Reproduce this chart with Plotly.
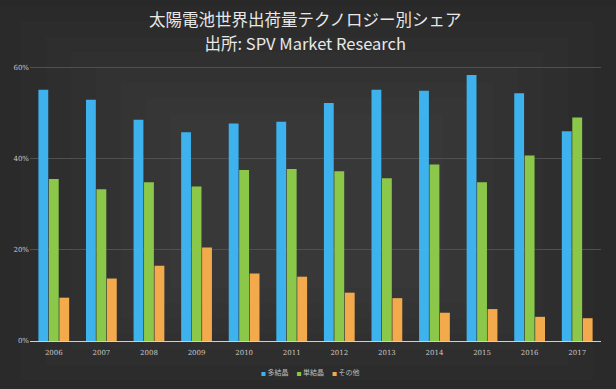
import plotly.graph_objects as go

years = ["2006", "2007", "2008", "2009", "2010", "2011", "2012", "2013", "2014", "2015", "2016", "2017"]
poly = [55.1, 52.9, 48.5, 45.8, 47.7, 48.1, 52.2, 55.1, 54.9, 58.3, 54.3, 46.0]
mono = [35.5, 33.3, 34.8, 33.9, 37.5, 37.7, 37.2, 35.7, 38.7, 34.8, 40.7, 49.0]
other = [9.5, 13.7, 16.5, 20.5, 14.8, 14.1, 10.6, 9.4, 6.2, 7.0, 5.3, 5.0]
series_names = ["多結晶", "単結晶", "その他"]
y_ticks = [0, 20, 40, 60]
y_labels = ["0%", "20%", "40%", "60%"]
title1 = "太陽電池世界出荷量テクノロジー別シェア"
title2 = "出所: SPV Market Research"

colors = ["#3db2ec", "#8bc84a", "#f3aa4c"]

fig = go.Figure()
for name, vals, c in zip(series_names, [poly, mono, other], colors):
    fig.add_trace(go.Bar(x=years, y=vals, name=name, showlegend=False,
                         marker=dict(color=c, line=dict(width=0))))

# background vignette (lighter centre, darker edges)
shapes = []
steps = 8
for i in range(steps):
    f = i / steps
    shapes.append(dict(type="rect", xref="paper", yref="paper", layer="below",
                       x0=-0.06 + f * 0.35, x1=1.03 - f * 0.35,
                       y0=-0.2 + f * 0.45, y1=1.22 - f * 0.45,
                       fillcolor="rgba(255,255,255,0.012)", line=dict(width=0)))

legend_text = "&nbsp;&nbsp;&nbsp;&nbsp;&nbsp;".join(
    f"<span style='color:{c}; font-size:5px'>■</span> {n}" for n, c in zip(series_names, colors)
)

title_text = (f"<span style='font-size:16.5px'>{title1}</span><br>"
              f"<span style='font-size:16.5px'>{title2}</span>")

annotations = [
    dict(text=title_text, xref="paper", yref="paper", x=0.482, y=1.128, xanchor="center", yanchor="middle",
         showarrow=False, font=dict(family="Noto Sans CJK JP, Open Sans", size=18.5, color="#e8e8e8")),
    dict(text=legend_text, xref="paper", yref="paper", x=0.49, y=-0.113, xanchor="center", yanchor="middle",
         showarrow=False, font=dict(family="Noto Sans CJK JP", size=7, color="#bdbdbd")),
]

fig.update_layout(
    width=616, height=389,
    paper_bgcolor="#282828",
    plot_bgcolor="rgba(0,0,0,0)",
    barmode="group",
    bargap=0.34,
    bargroupgap=0.06,
    margin=dict(l=30, r=15, t=66, b=48, autoexpand=False),
    showlegend=False,
    shapes=shapes,
    annotations=annotations,
    xaxis=dict(
        showgrid=False, showline=True, linecolor="#d0d0d0", linewidth=1,
        ticks="", ticklabelstandoff=5, tickfont=dict(family="DejaVu Serif", size=7, color="#c8c8c8"),
        fixedrange=True, automargin=False,
    ),
    yaxis=dict(
        range=[0, 60.3], tickvals=y_ticks, ticktext=y_labels,
        showgrid=True, gridcolor="#505050", gridwidth=1, zeroline=False,
        tickfont=dict(family="DejaVu Serif", size=7, color="#c8c8c8"),
        fixedrange=True, automargin=False,
    ),
)

fig.write_html("out.html", config={"displayModeBar": False},
               post_script="document.body.style.margin='0';document.body.style.overflow='hidden';")
